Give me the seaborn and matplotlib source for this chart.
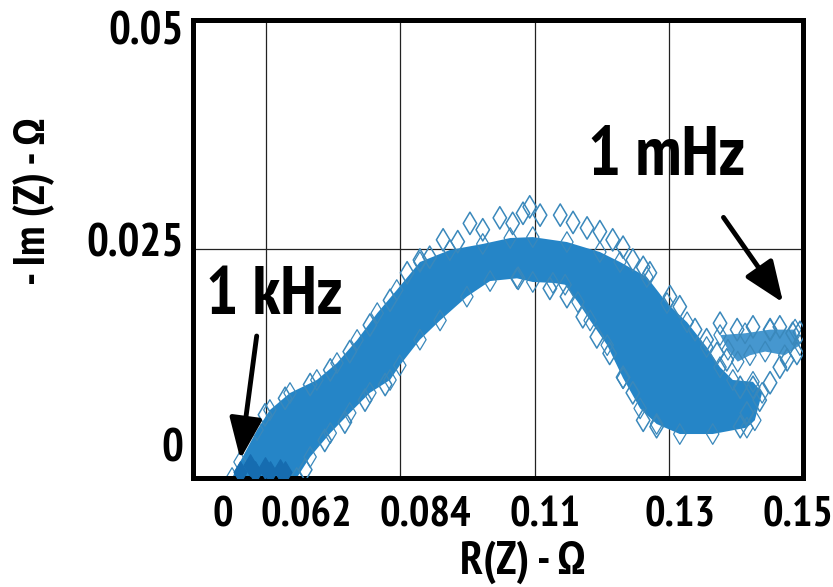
import numpy as np
import pandas as pd
import matplotlib
matplotlib.use("Agg")
import matplotlib.pyplot as plt
import seaborn as sns

# Nyquist data (R in ohm, -Im in ohm)
# upper edge of the dense band, left to right
band_upper_x = [0.0564, 0.0577, 0.0605, 0.0626, 0.0659, 0.0703, 0.0736, 0.0769, 0.0802, 0.0834,
                0.0872, 0.0921, 0.0975, 0.1020, 0.1057, 0.1113, 0.1167, 0.1200, 0.1244, 0.1277,
                0.1310, 0.1342, 0.1364, 0.1385, 0.1418, 0.1433]
band_upper_y = [0.0, 0.00175, 0.00524, 0.00742, 0.00928, 0.0107, 0.01255, 0.01507, 0.0180, 0.02052,
                0.02358, 0.02489, 0.02555, 0.0262, 0.0263, 0.02576, 0.02467, 0.02358, 0.02194, 0.0191,
                0.0170, 0.0143, 0.0121, 0.0107, 0.0105, 0.0093]
# lower edge of the dense band, right to left
band_lower_x = [0.1421, 0.1408, 0.1352, 0.1298, 0.1260, 0.1233, 0.1205, 0.1179, 0.1151, 0.1131,
                0.1110, 0.1090, 0.1057, 0.1031, 0.0987, 0.0949, 0.0905, 0.0872, 0.0839, 0.0823,
                0.0790, 0.0757, 0.0725, 0.0692, 0.0670]
band_lower_y = [0.0063, 0.0055, 0.0048, 0.0048, 0.0059, 0.0076, 0.0109, 0.0145, 0.0172, 0.0192,
                0.0211, 0.0213, 0.0214, 0.0218, 0.0215, 0.0198, 0.0172, 0.0151, 0.0123, 0.0107,
                0.0093, 0.0071, 0.0049, 0.0023, 0.0]
# low-frequency cluster near 1 mHz
cluster_x = [0.1364, 0.1405, 0.1446, 0.1487, 0.1495, 0.1470, 0.1438, 0.1413, 0.1393, 0.1377]
cluster_y = [0.0156, 0.0158, 0.0162, 0.0162, 0.0145, 0.0134, 0.0138, 0.0134, 0.0127, 0.0140]
# high-frequency start (darker pile-up)
start_x = [0.0577, 0.0602, 0.0626, 0.0651, 0.0593, 0.0618, 0.0643]
start_y = [0.0007, 0.0007, 0.0007, 0.0007, 0.0014, 0.0011, 0.0009]
# scattered points around the band
outlier_x = [0.0618, 0.0651, 0.0692, 0.0725, 0.0757, 0.0790, 0.0823,
             0.0684, 0.0716, 0.0749, 0.0782, 0.0815,
             0.0851, 0.0872, 0.0888, 0.0910, 0.0934, 0.0954, 0.0975, 0.1003, 0.1024, 0.1041,
             0.1052, 0.1069, 0.1102, 0.1123, 0.1146, 0.1167, 0.1188, 0.1205, 0.1221, 0.1238,
             0.1249, 0.1282, 0.1298, 0.1323, 0.1342, 0.1359, 0.1375,
             0.1033, 0.1085, 0.1113, 0.1139, 0.1162, 0.1183, 0.1205, 0.1221, 0.1238, 0.1260,
             0.1397, 0.1418, 0.1446, 0.1429, 0.1408, 0.1397,
             0.1364, 0.1392, 0.1418, 0.1446, 0.1462, 0.1483, 0.1474, 0.1462, 0.1490, 0.1495]
outlier_y = [0.0069, 0.0087, 0.0102, 0.0118, 0.0138, 0.0167, 0.0194,
             0.0009, 0.0041, 0.0061, 0.0085, 0.0102,
             0.0224, 0.0238, 0.0241, 0.0260, 0.0258, 0.0278, 0.0271, 0.0284, 0.0278, 0.0289,
             0.0296, 0.0287, 0.0287, 0.0279, 0.0273, 0.0269, 0.0260, 0.0252, 0.0238, 0.0230,
             0.0224, 0.0198, 0.0187, 0.0162, 0.0151, 0.0136, 0.0129,
             0.0218, 0.0207, 0.0198, 0.0176, 0.0154, 0.0136, 0.0110, 0.0093, 0.0063, 0.0056,
             0.0099, 0.0099, 0.0104, 0.0085, 0.0071, 0.0056,
             0.0169, 0.0162, 0.0165, 0.0162, 0.0165, 0.0158, 0.0129, 0.0121, 0.0136, 0.0159]

x_tick_labels = ["0", "0.062", "0.084", "0.11", "0.13", "0.15"]
x_tick_pos = [0.0549, 0.0685, 0.0880, 0.1077, 0.1298, 0.1492]
y_tick_labels = ["0", "0.025", "0.05"]
y_tick_pos = [0.0036, 0.0260, 0.0491]
x_grid = [0.062, 0.084, 0.106, 0.128]
y_grid = [0.025]

sns.set_style("white")
# narrow bold face with static bold files; DejaVu only as glyph fallback
plt.rcParams['font.family'] = ['PT Sans Narrow', 'Fira Sans Condensed',
                               'IBM Plex Sans Condensed', 'Liberation Sans', 'DejaVu Sans']
plt.rcParams['font.weight'] = 'bold'
plt.rcParams['text.color'] = 'black'
plt.rcParams['xtick.color'] = 'black'
plt.rcParams['ytick.color'] = 'black'
plt.rcParams['axes.labelcolor'] = 'black'

fig = plt.figure(figsize=(8.33, 5.87), dpi=100)
ax = fig.add_axes([0.2317, 0.1857, 0.7323, 0.7802])

band_col = '#2585c7'
edge_col = '#3a88bb'

# dense band and low-frequency cluster
ax.fill(band_upper_x + band_lower_x, band_upper_y + band_lower_y,
        color=band_col, lw=0, zorder=2)
ax.fill(cluster_x, cluster_y, color=band_col, alpha=0.85, lw=0, zorder=2)

pts = pd.DataFrame({'R': outlier_x, 'Im': outlier_y})
sns.scatterplot(data=pts, x='R', y='Im', marker='d', s=130, facecolor='none',
                edgecolor=edge_col, linewidth=1.1, ax=ax, zorder=3)
edge_pts = pd.DataFrame({'R': band_upper_x + band_lower_x + cluster_x,
                         'Im': band_upper_y + band_lower_y + cluster_y})
sns.scatterplot(data=edge_pts, x='R', y='Im', marker='d', s=110, facecolor='none',
                edgecolor=edge_col, linewidth=0.9, ax=ax, zorder=2.5)
start = pd.DataFrame({'R': start_x, 'Im': start_y})
sns.scatterplot(data=start, x='R', y='Im', marker='d', s=120, color='#166cb0',
                edgecolor='#166cb0', ax=ax, zorder=3)

ax.set_xlim(0.05, 0.15)
ax.set_ylim(0, 0.05)

ax.set_xticks(x_tick_pos, x_tick_labels)
ax.set_yticks(y_tick_pos, y_tick_labels)
ax.set_xticks(x_grid, minor=True)
ax.set_yticks(y_grid, minor=True)
ax.tick_params(axis='both', which='both', length=0)
ax.tick_params(axis='x', labelsize=31, pad=13)
ax.tick_params(axis='y', labelsize=33, pad=7)
ax.grid(False)
ax.grid(True, which='minor', color='#222222', lw=0.9)
for lab in ax.get_xticklabels() + ax.get_yticklabels():
    lab.set_fontweight('bold')

for sp in ax.spines.values():
    sp.set_visible(True)
    sp.set_color('black')
    sp.set_linewidth(3.6)

ax.set_xlabel('R(Z) - Ω', fontsize=33, fontweight='bold')
ax.set_ylabel('- Im (Z) - Ω', fontsize=32, fontweight='bold')
ax.xaxis.set_label_coords(0.541, -0.137)
ax.yaxis.set_label_coords(-0.226, 0.605)

arrow = dict(arrowstyle='-|>,head_length=2.5,head_width=1.0', color='black', lw=3.5,
             mutation_scale=10)
ax.annotate('', xy=(0.0577, 0.00175), xytext=(0.0605, 0.0158), arrowprops=arrow, zorder=5)
ax.annotate('', xy=(0.1470, 0.0189), xytext=(0.1367, 0.0287), arrowprops=arrow, zorder=5)
ax.text(0.0634, 0.0198, '1 kHz', fontsize=49, fontweight='bold', ha='center', va='center', zorder=5)
ax.text(0.1277, 0.0350, '1 mHz', fontsize=50, fontweight='bold', ha='center', va='center', zorder=5)

fig.savefig('out.png', dpi=100)
